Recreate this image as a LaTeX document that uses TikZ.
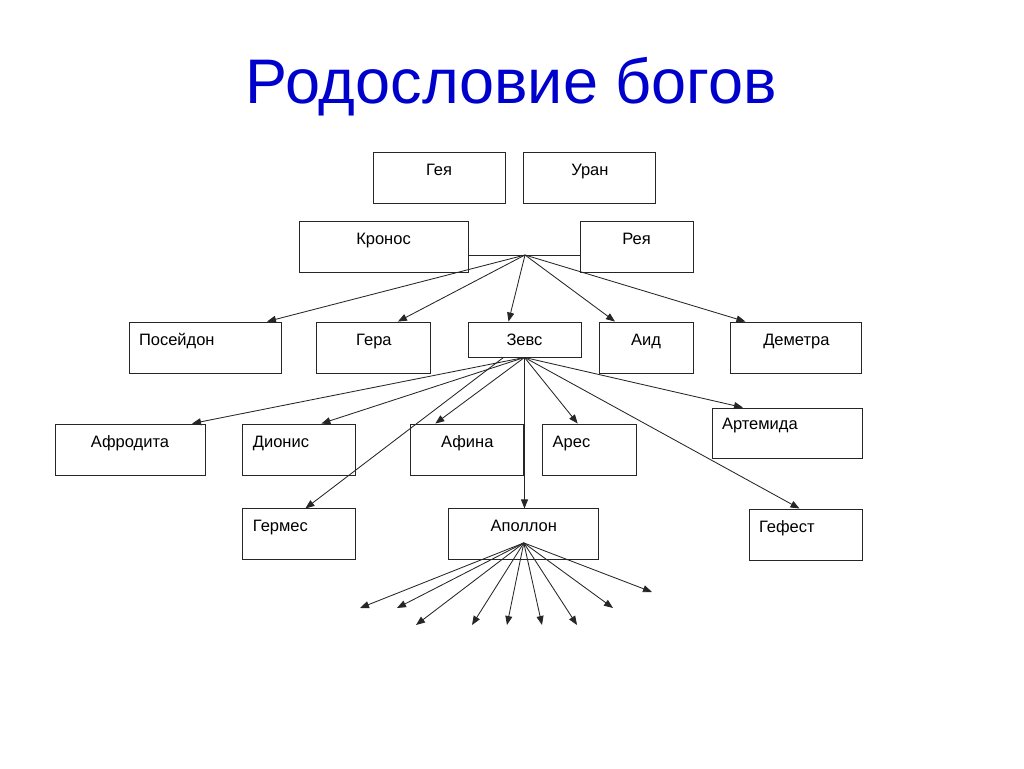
\documentclass[tikz,border=0pt]{standalone}
\usepackage{fontspec}
\setmainfont{Liberation Sans}
\usepackage{xcolor}
\usetikzlibrary{positioning,arrows.meta}

\definecolor{titleblue}{RGB}{0,0,205}

\begin{document}
\begin{tikzpicture}[x=1pt, y=-1pt]
    \tikzset{
      god/.style = {rectangle, draw=black!85, line width=0.9pt, inner ysep=0pt, text height=23pt, text depth=28pt, font=\fontsize{16.5}{19}\selectfont},
      lgod/.style = {god, align=left, inner xsep=10pt},
      line/.style = {draw=black!85, line width=0.85pt},
      arrow/.style = {line, -{Triangle[length=9pt,width=7pt]}}
    }
    \useasboundingbox (0,0) rectangle (1024,768);

    \node (title) [anchor=base, text=titleblue, font=\fontsize{63}{75}\selectfont] at (511.5,103) {Родословие богов};

    \node (gaia) [god, minimum width=132pt] at (439,178) {Гея};
    \node (uranus) [god, minimum width=132pt, right=18pt of gaia] {Уран};
    \node (kronos) [god, minimum width=169pt] at (383.5,246.5) {Кронос};
    \node (rhea) [god, minimum width=113pt] at (636.5,246.5) {Рея};

    \node (poseidon) [lgod, text width=132pt] at (205,347.5) {Посейдон};
    \node (hera) [god, minimum width=114pt, right=35pt of poseidon] {Гера};
    \node (zeus) [god, minimum width=113pt, text depth=12pt] at (524.5,339.5) {Зевс};
    \node (hades) [god, minimum width=94pt] at (646,347.5) {Аид};
    \node (demeter) [god, minimum width=131pt, right=37pt of hades] {Деметра};

    \node (aphrodite) [god, minimum width=150pt] at (130,449.5) {Афродита};
    \node (dionysus) [lgod, text width=93pt, right=37pt of aphrodite] {Дионис};
    \node (athena) [god, minimum width=113pt, right=54pt of dionysus] {Афина};
    \node (ares) [lgod, text width=74pt, right=18pt of athena] {Арес};
    \node (artemis) [lgod, text width=130pt, text height=21pt, text depth=29pt] at (787,433) {Артемида};

    \node (hermes) [lgod, text width=93pt, below=33pt of dionysus] {Гермес};
    \node (apollo) [god, minimum width=150pt, right=92pt of hermes] {Аполлон};
    \node (hephaestus) [lgod, text width=93pt] at (805.5,534.5) {Гефест};

    % Kronos and Rhea
    \coordinate (marriage) at (525,255);
    \draw [line] (kronos.east |- marriage) -- (rhea.west |- marriage);
    \draw [arrow] (marriage) -- ([xshift=62pt]poseidon.north);
    \draw [arrow] (marriage) -- ([xshift=24pt]hera.north);
    \draw [arrow] (marriage) -- ([xshift=-16pt]zeus.north);
    \draw [arrow] (marriage) -- ([xshift=-31pt]hades.north);
    \draw [arrow] (marriage) -- ([xshift=-51pt]demeter.north);

    % children of Zeus
    \draw [arrow] (zeus.south) -- ([xshift=62pt]aphrodite.north);
    \draw [arrow] (zeus.south) -- ([xshift=22pt]dionysus.north);
    \draw [arrow] (zeus.south) -- ([xshift=-32pt]athena.north);
    \draw [arrow] ([xshift=-21pt]zeus.south) -- ([xshift=6pt]hermes.north);
    \draw [arrow] (zeus.south) -- (zeus.south |- apollo.north);
    \draw [arrow] (zeus.south) -- ([xshift=-12pt]ares.north);
    \draw [arrow] (zeus.south) -- ([xshift=-44pt]artemis.north);
    \draw [arrow] (zeus.south) -- ([xshift=-6pt]hephaestus.north);

    % muses
    \coordinate (muses) at ([yshift=-8.5pt]apollo.center);
    \foreach \x/\y [count=\i] in {360/608, 397/608, 416/625, 472/625, 507/625, 542/625, 577/625, 613/608, 652/592} {
      \coordinate (muse\i) at (\x,\y);
      \draw [arrow] (muses) -- (muse\i);
    }
\end{tikzpicture}
\end{document}
